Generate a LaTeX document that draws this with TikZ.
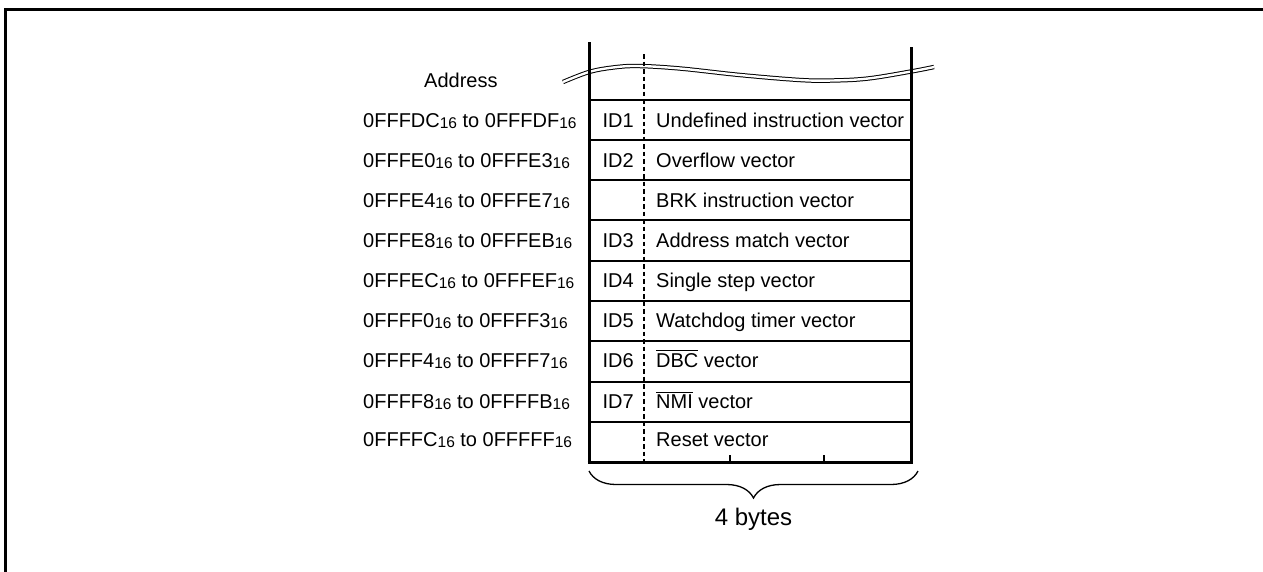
\documentclass[tikz,border=0pt]{standalone}
\usepackage{fontspec}
\setmainfont{Liberation Sans}
\usetikzlibrary{decorations.pathreplacing}
\newcommand\sxvi{\raisebox{-1pt}{\fontsize{15.5}{15.5}\selectfont 16}}
\newcommand\ovl[1]{\leavevmode\vbox{\hrule height 1.1pt\kern 1.6pt\hbox{#1}}}
\tikzset{
  lbl/.style={anchor=base west, inner sep=0pt, font=\fontsize{20}{24}\selectfont},
  idlbl/.style={anchor=base east, inner sep=0pt, font=\fontsize{20}{24}\selectfont},
  vline/.style={line width=3pt},
  rowline/.style={line width=2pt},
  dashline/.style={line width=1.6pt, dash pattern=on 4.5pt off 3pt},
}
\begin{document}
\begin{tikzpicture}[x=1pt,y=-1pt]
\useasboundingbox (0,0) rectangle (1263,571);
% frame
\draw[line width=3pt] (1265,9) -- (5,9) -- (5,573);
% wave (double)
\draw[double, double distance=2.4pt, line width=1pt] plot[smooth, tension=0.6] coordinates {(563,82) (589,72) (613,67.5) (638,66) (680,68.5) (740,75) (800,80) (832,80.5) (868,78.5) (911,71.5) (934,67)};
% vertical lines
\draw[vline] (589,42) -- (589,462);
\draw[vline] (911,47) -- (911,462);
% dashed divider
\draw[dashline] (644,54) -- (644,462);
% row lines
\foreach \yy in {100,140,180,220,261,301,341,382,422}
  \draw[rowline] (589,\yy) -- (911,\yy);
\draw[line width=3pt] (587.5,462) -- (912.5,462);
% ticks
\draw[line width=1.4pt] (730,455) -- (730,462);
\draw[line width=1.4pt] (824,455) -- (824,462);
% labels
\node[lbl] (addr) at (424,87) {Address};
\node[lbl] (a1) at (363,127) {0FFFDC\sxvi{} to 0FFFDF\sxvi};
\node[lbl] (a2) at (363,167) {0FFFE0\sxvi{} to 0FFFE3\sxvi};
\node[lbl] (a3) at (363,207) {0FFFE4\sxvi{} to 0FFFE7\sxvi};
\node[lbl] (a4) at (363,247) {0FFFE8\sxvi{} to 0FFFEB\sxvi};
\node[lbl] (a5) at (363,287) {0FFFEC\sxvi{} to 0FFFEF\sxvi};
\node[lbl] (a6) at (363,327) {0FFFF0\sxvi{} to 0FFFF3\sxvi};
\node[lbl] (a7) at (363,367) {0FFFF4\sxvi{} to 0FFFF7\sxvi};
\node[lbl] (a8) at (363,408) {0FFFF8\sxvi{} to 0FFFFB\sxvi};
\node[lbl] (a9) at (363,446) {0FFFFC\sxvi{} to 0FFFFF\sxvi};
% IDs
\node[idlbl] (i1) at (634,127) {ID1};
\node[idlbl] (i2) at (634,167) {ID2};
\node[idlbl] (i3) at (634,247) {ID3};
\node[idlbl] (i4) at (634,287) {ID4};
\node[idlbl] (i5) at (634,327) {ID5};
\node[idlbl] (i6) at (634,367) {ID6};
\node[idlbl] (i7) at (634,408) {ID7};
% vectors
\node[lbl] (v1) at (656,127) {Undefined instruction vector};
\node[lbl] (v2) at (656,167) {Overflow vector};
\node[lbl] (v3) at (656,207) {BRK instruction vector};
\node[lbl] (v4) at (656,247) {Address match vector};
\node[lbl] (v5) at (656,287) {Single step vector};
\node[lbl] (v6) at (656,327) {Watchdog timer vector};
\node[lbl] (v7) at (656,367) {\ovl{DBC} vector};
\node[lbl] (v8) at (656,408) {\ovl{NMI} vector};
\node[lbl] (v9) at (656,446) {Reset vector};
% brace
\draw[line width=1.3pt, decorate, decoration={brace, mirror, amplitude=27pt}] (589,471) -- (918,471);
\node[anchor=base, inner sep=0pt, font=\fontsize{24}{28}\selectfont] (bytes) at (753.5,525) {4 bytes};
\end{tikzpicture}
\end{document}
